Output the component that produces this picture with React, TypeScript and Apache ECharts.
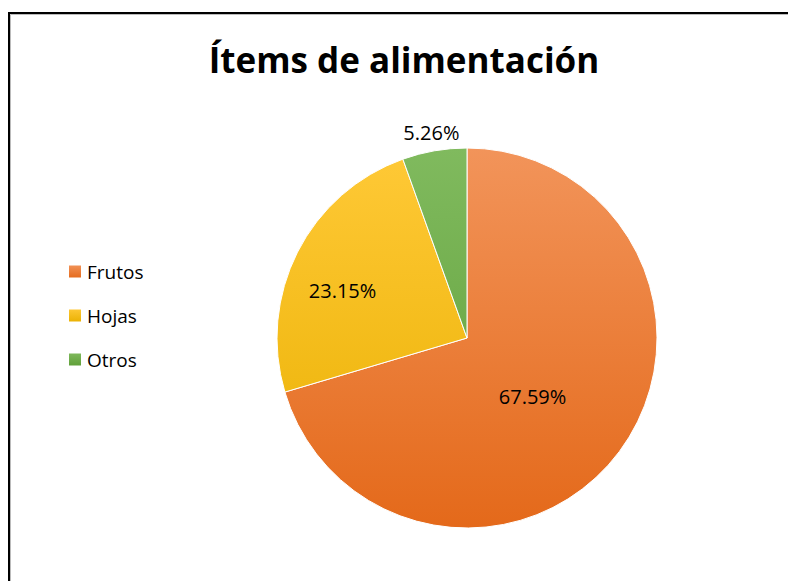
import React, { useEffect, useRef } from "react";
import * as echarts from "echarts";

const categories = ["Frutos", "Hojas", "Otros"];
const values = [67.59, 23.15, 5.26];
const topColors = ["#F2945A", "#FFC937", "#80BA5E"];
const bottomColors = ["#E4691A", "#E9B000", "#5E9E37"];

const FONT = "'Open Sans', 'Noto Sans', sans-serif";

export default function App() {
  const ref = useRef<HTMLDivElement>(null);
  useEffect(() => {
    if (!ref.current) return;
    const chart = echarts.init(ref.current, null, { renderer: "svg" });
    const cy = 338;
    const r = 190;
    const grad = (i: number) =>
      new echarts.graphic.LinearGradient(0, cy - r, 0, cy + r, [
        { offset: 0, color: topColors[i] },
        { offset: 1, color: bottomColors[i] },
      ], true);
    const localGrad = (i: number) =>
      new echarts.graphic.LinearGradient(0, 0, 0, 1, [
        { offset: 0, color: topColors[i] },
        { offset: 1, color: bottomColors[i] },
      ]);
    chart.setOption({
      animation: false,
      backgroundColor: "#fff",
      title: {
        text: "Ítems de alimentación",
        left: 399,
        textAlign: "center",
        top: 37,
        textStyle: { fontFamily: FONT, fontWeight: "bold", fontSize: 35, color: "#000" },
      },
      graphic: [
        {
          type: "rect",
          shape: { x: 9, y: 13, width: 900, height: 700 },
          style: { fill: "none", stroke: "#000", lineWidth: 2 },
        },
        {
          type: "rect",
          shape: { x: 10.5, y: 14.5, width: 900, height: 700 },
          style: { fill: "none", stroke: "#bbb", lineWidth: 1 },
        },
      ],
      legend: {
        orient: "vertical",
        left: 62,
        top: 257,
        icon: "rect",
        itemWidth: 14,
        itemHeight: 14,
        itemGap: 25,
        textStyle: { fontFamily: FONT, fontSize: 19, color: "#000", padding: [0, 0, 0, 0] },
        data: categories.map((c, i) => ({ name: c, itemStyle: { color: localGrad(i) } })),
      },
      series: [
        {
          type: "pie",
          center: [467, cy],
          radius: [0, r],
          startAngle: 90,
          clockwise: true,
          avoidLabelOverlap: false,
          itemStyle: { borderColor: "#fff", borderWidth: 1 },
          label: {
            show: true,
            position: "inside",
            fontFamily: FONT,
            fontSize: 20,
            color: "#000",
            formatter: (p: any) => p.value.toFixed(2) + "%",
          },
          labelLine: { show: false, length: 6, length2: 0 },
          labelLayout: (p: any) => {
            if (p.dataIndex === 0) return { dx: -13, dy: 0 };
            if (p.dataIndex === 1) return { dx: -37, dy: -3 };
            if (p.dataIndex === 2) return { dx: 31, dy: -12 };
            return {};
          },
          emphasis: { disabled: true },
          data: categories.map((c, i) => ({
            name: c,
            value: values[i],
            itemStyle: { color: grad(i) },
            label: i === 2 ? { position: "outside" } : undefined,
          })),
        },
      ],
    });
    return () => chart.dispose();
  }, []);
  return (
    <div
      ref={ref}
      style={{ position: "absolute", left: 0, top: 0, width: 788, height: 581 }}
    />
  );
}
